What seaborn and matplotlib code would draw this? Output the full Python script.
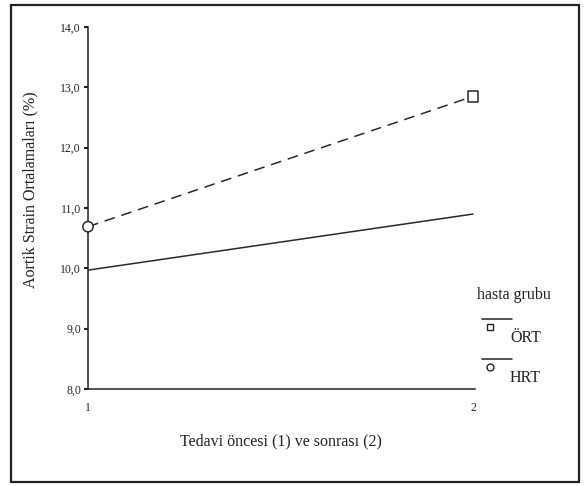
import matplotlib
matplotlib.use("Agg")
import matplotlib.pyplot as plt
import seaborn as sns
import pandas as pd
from matplotlib.lines import Line2D
from matplotlib.patches import Rectangle

# Data
periods = [1, 2]
ort_values = [9.97, 10.90]     # solid line
hrt_values = [10.69, 12.85]    # dashed line with markers
hrt_markers = ["o", "s"]
y_ticks = [8.0, 9.0, 10.0, 11.0, 12.0, 13.0, 14.0]
y_tick_labels = ["8,0", "9,0", "10,0", "11,0", "12,0", "13,0", "14,0"]
x_tick_labels = ["1", "2"]
legend_title = "hasta grubu"
groups = ["ÖRT", "HRT"]

sns.set_theme(style="white")
plt.rcParams["font.family"] = ["Liberation Serif", "DejaVu Serif"]

df = pd.DataFrame({
    "period": periods * 2,
    "value": ort_values + hrt_values,
    "grup": ["ÖRT"] * 2 + ["HRT"] * 2,
})

fig = plt.figure(figsize=(5.84, 4.86), dpi=100)
ax = fig.add_axes([88 / 584, 97 / 486, (475 - 88) / 584, (389 - 27) / 486])

sns.lineplot(data=df, x="period", y="value", style="grup",
             dashes={"ÖRT": "", "HRT": (7, 4.5)}, color="#2a2a2a",
             linewidth=1.1, legend=False, ax=ax)

dfm = df[df["grup"] == "HRT"].copy()
dfm["mk"] = hrt_markers
sns.scatterplot(data=dfm, x="period", y="value", style="mk",
                markers={"o": "o", "s": "s"}, s=55, facecolor="white",
                edgecolor="#2a2a2a", linewidth=1.1, legend=False, ax=ax, zorder=5)
for coll in ax.collections:
    coll.set_clip_on(False)

ax.set_xlim(1, 2.005)
ax.set_ylim(8, 14)
ax.set_yticks(y_ticks)
ax.set_yticklabels(y_tick_labels, fontsize=8.5)
ax.set_xticks(periods)
ax.set_xticklabels(x_tick_labels, fontsize=8.5)
ax.tick_params(axis="y", which="both", left=True, length=3, width=1.5, color="#222", pad=2)
ax.tick_params(axis="x", bottom=False, pad=3)
sns.despine(ax=ax)
ax.spines["left"].set_color("#222")
ax.spines["bottom"].set_color("#222")
ax.spines["left"].set_linewidth(1.1)
ax.spines["bottom"].set_linewidth(1.1)
ax.set_xlabel("")
ax.set_ylabel("")

fig.text(30 / 584, 1 - 190 / 486, "Aortik Strain Ortalamaları (%)", rotation=90,
         ha="center", va="center", fontsize=11.5, color="#222")
fig.text(281 / 584, 1 - 441 / 486, "Tedavi öncesi (1) ve sonrası (2)",
         ha="center", va="center", fontsize=11.5, color="#222")

# outer frame
fig.patches.append(Rectangle((11 / 584, 1 - 482 / 486), (579 - 11) / 584, (482 - 5) / 486,
                             transform=fig.transFigure, fill=False,
                             edgecolor="#222", linewidth=1.6))

# legend (SPSS style)
fig.text(477 / 584, 1 - 295 / 486, legend_title, ha="left", va="center", fontsize=11.5, color="#222")
leg_y = [319, 359]
leg_mk = ["s", "o"]
for gy, mk, name in zip(leg_y, leg_mk, groups):
    fig.lines.append(Line2D([482 / 584, 512 / 584], [1 - gy / 486] * 2,
                            transform=fig.transFigure, color="#222", linewidth=1.1))
    fig.lines.append(Line2D([490 / 584], [1 - (gy + 8) / 486], transform=fig.transFigure,
                            marker=mk, markersize=5, markerfacecolor="white",
                            markeredgecolor="#222", markeredgewidth=1, linestyle="none"))
    fig.text(510 / 584, 1 - (gy + 19) / 486, name, ha="left", va="center", fontsize=11.5, color="#222")

fig.savefig("out.png", dpi=100)
